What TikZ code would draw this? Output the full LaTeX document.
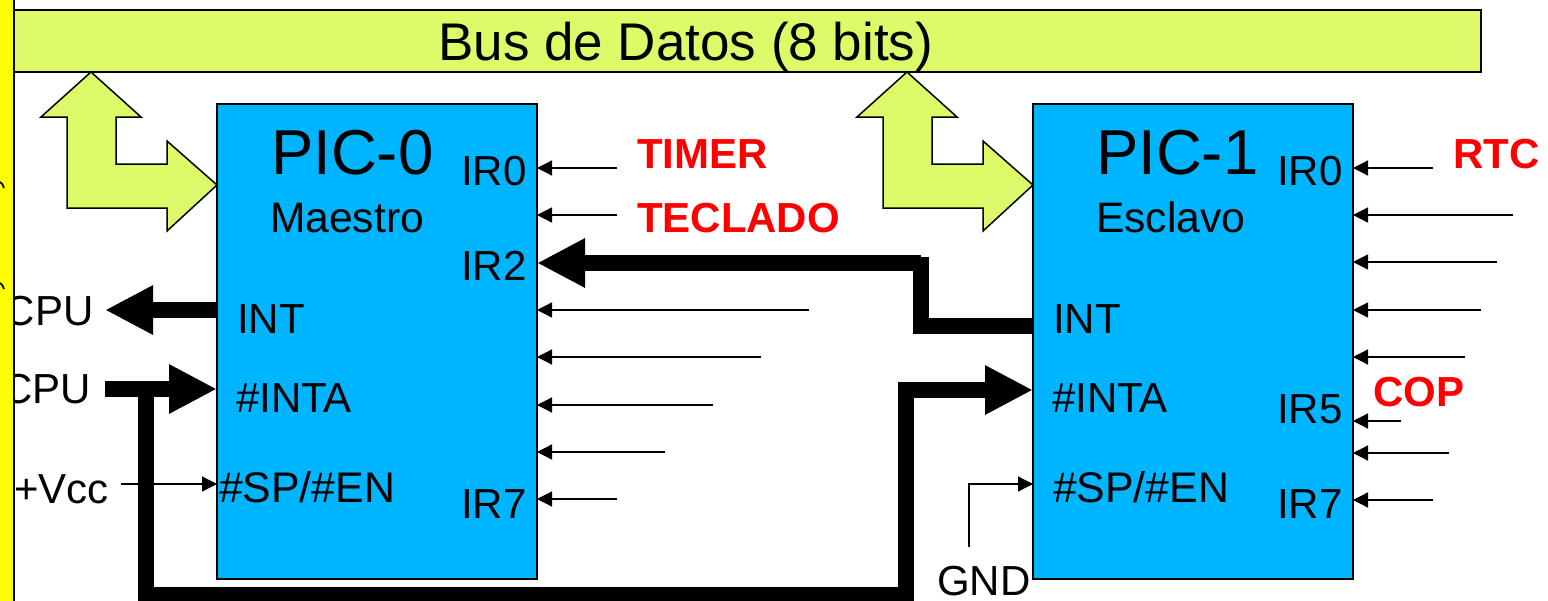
\documentclass[tikz,border=0pt]{standalone}
\usepackage{fontspec}
\setmainfont{Liberation Sans}
\usetikzlibrary{arrows.meta}
\definecolor{busgreen}{HTML}{DDFB68}
\definecolor{picblue}{HTML}{00B5FF}
\definecolor{stripyellow}{HTML}{FFFF00}
\tikzset{
  x=1pt,y=-1pt,
  chip/.style={draw=black,line width=1.5pt,fill=picblue,anchor=north west,minimum width=320pt,minimum height=475pt,inner sep=0pt,outer sep=0pt},
  busbar/.style={draw=black,line width=1.5pt,fill=busgreen},
  greenarrow/.style={draw=black,line width=1.5pt,fill=busgreen,line join=miter},
  thinarrow/.style={line width=1.3pt,draw=black,-{Triangle[length=15pt,width=15pt]}},
  thickarrow/.style={line width=16pt,draw=black,-{Triangle[length=48pt,width=46pt]}},
  thickline/.style={line width=16pt,draw=black,line cap=butt,line join=miter},
  lab/.style={anchor=base west,inner sep=0pt,outer sep=0pt,font=\fontsize{42}{42}\selectfont},
  splab/.style={anchor=base west,inner sep=0pt,outer sep=0pt,font=\fontsize{42.8}{43}\selectfont},
  title/.style={anchor=base west,inner sep=0pt,outer sep=0pt,font=\fontsize{63.5}{64}\selectfont},
  sub/.style={anchor=base west,inner sep=0pt,outer sep=0pt,font=\fontsize{42.6}{43}\selectfont},
  redlab/.style={anchor=base west,inner sep=0pt,outer sep=0pt,text=red,font=\bfseries\fontsize{42}{42}\selectfont},
}
\begin{document}
\begin{tikzpicture}
\clip (0,0) rectangle (1548,600);
\fill[white] (0,0) rectangle (1548,600);
% bus
\draw[busbar] (14,10) rectangle (1481,72);
% chips
\node[chip] (pic0) at (217,104) {};
\node[chip] (pic1) at (1033,104) {};
% green arrows
\draw[greenarrow] (91,72) -- (41,117) -- (67,117) -- (67,208) -- (167,208) -- (167,231) -- (217,185) -- (167,141) -- (167,164) -- (116,164) -- (116,117) -- (141,117) -- cycle;
\draw[greenarrow] (907,72) -- (857,117) -- (883,117) -- (883,208) -- (983,208) -- (983,231) -- (1033,185) -- (983,141) -- (983,164) -- (932,164) -- (932,117) -- (957,117) -- cycle;
% texts
\node[anchor=base west,inner sep=0pt,font=\fontsize{53}{53}\selectfont] (bus) at (438,60) {Bus de Datos (8 bits)};
\node[title] (t0) at (271,174) {PIC-0};
\node[sub] (m0) at (270,232) {Maestro};
\node[lab] (a0) at (461,185) {IR0};
\node[lab] (a2) at (461,280) {IR2};
\node[lab] (a7) at (461,518) {IR7};
\node[lab] (aint) at (237,333) {INT};
\node[lab] (ainta) at (236,412) {\#INTA};
\node[splab] (asp) at (219,502) {\#SP/\#EN};
\node[title] (t1) at (1096,174) {PIC-1};
\node[sub] (m1) at (1096,232) {Esclavo};
\node[lab] (b0) at (1277,185) {IR0};
\node[lab] (b5) at (1277,423) {IR5};
\node[lab] (b7) at (1277,518) {IR7};
\node[lab] (bint) at (1053,333) {INT};
\node[lab] (binta) at (1052,412) {\#INTA};
\node[splab] (bsp) at (1053,502) {\#SP/\#EN};
\node[redlab] (timer) at (637,168) {TIMER};
\node[redlab] (tecl) at (637,232) {TECLADO};
\node[redlab] (rtc) at (1453,168) {RTC};
\node[redlab] (cop) at (1373,406) {COP};
\node[lab] (cpu1) at (5,325) {CPU};
\node[lab] (cpu2) at (2,403) {CPU};
\node[lab] (vcc) at (14,503) {+Vcc};
\node[lab] (gnd) at (937,595) {GND};
% thin arrows PIC-0
\foreach \nm/\yy/\xx in {a/168/617,b/215/617,c/310/809,d/357/761,e/405/713,f/452/665,g/499/617}{
  \coordinate (s0\nm) at (\xx,\yy);
  \coordinate (e0\nm) at (537,\yy);
  \draw[thinarrow] (s0\nm) -- (e0\nm);
}
% thin arrows PIC-1
\foreach \nm/\yy/\xx in {a/168/1433,b/215/1513,c/262/1497,d/310/1481,e/357/1465,f/421/1401,g/453/1449,h/500/1433}{
  \coordinate (s1\nm) at (\xx,\yy);
  \coordinate (e1\nm) at (1353,\yy);
  \draw[thinarrow] (s1\nm) -- (e1\nm);
}
% SP
\coordinate (vs) at (121,484);
\coordinate (ve) at (217,484);
\draw[thinarrow] (vs) -- (ve);
\coordinate (gs) at (969,547);
\coordinate (gc) at (969,484);
\coordinate (ge) at (1033,484);
\draw[thinarrow] (gs) -- (gc) -- (ge);
% thick
\coordinate (i0) at (217,310);
\coordinate (c1) at (105,310);
\draw[thickarrow] (i0) -- (c1);
\coordinate (c2) at (105,389);
\coordinate (ia0) at (217,389);
\draw[thickarrow] (c2) -- (ia0);
\coordinate (br) at (145.5,389);
\coordinate (bb) at (145.5,595);
\coordinate (bc) at (905.5,595);
\coordinate (bu) at (905.5,390);
\coordinate (ia1) at (1033,390);
\draw[thickline] (br) -- (bb) -- (bc) -- (bu);
\draw[thickarrow] (898,390) -- (ia1);
\coordinate (i1) at (1033,325.5);
\coordinate (k1) at (913,325.5);
\coordinate (k3) at (921,333.5);
\coordinate (k4) at (921,257);
\coordinate (k2) at (921,263);
\coordinate (ir2) at (537,263);
\draw[thickline] (i1) -- (k1);
\draw[thickline] (k3) -- (k4);
\draw[thickarrow] (k2) -- (ir2);
% strip on the left
\fill[stripyellow] (0,-2) rectangle (14,602);
\draw[line width=2.5pt] (14,-2) -- (14,602);
\draw[line width=1.8pt] (0,182) .. controls (2,183) and (3,185) .. (4,188);
\draw[line width=1.8pt] (0,283) .. controls (2,284) and (3,286) .. (4,289);
\end{tikzpicture}
\end{document}
